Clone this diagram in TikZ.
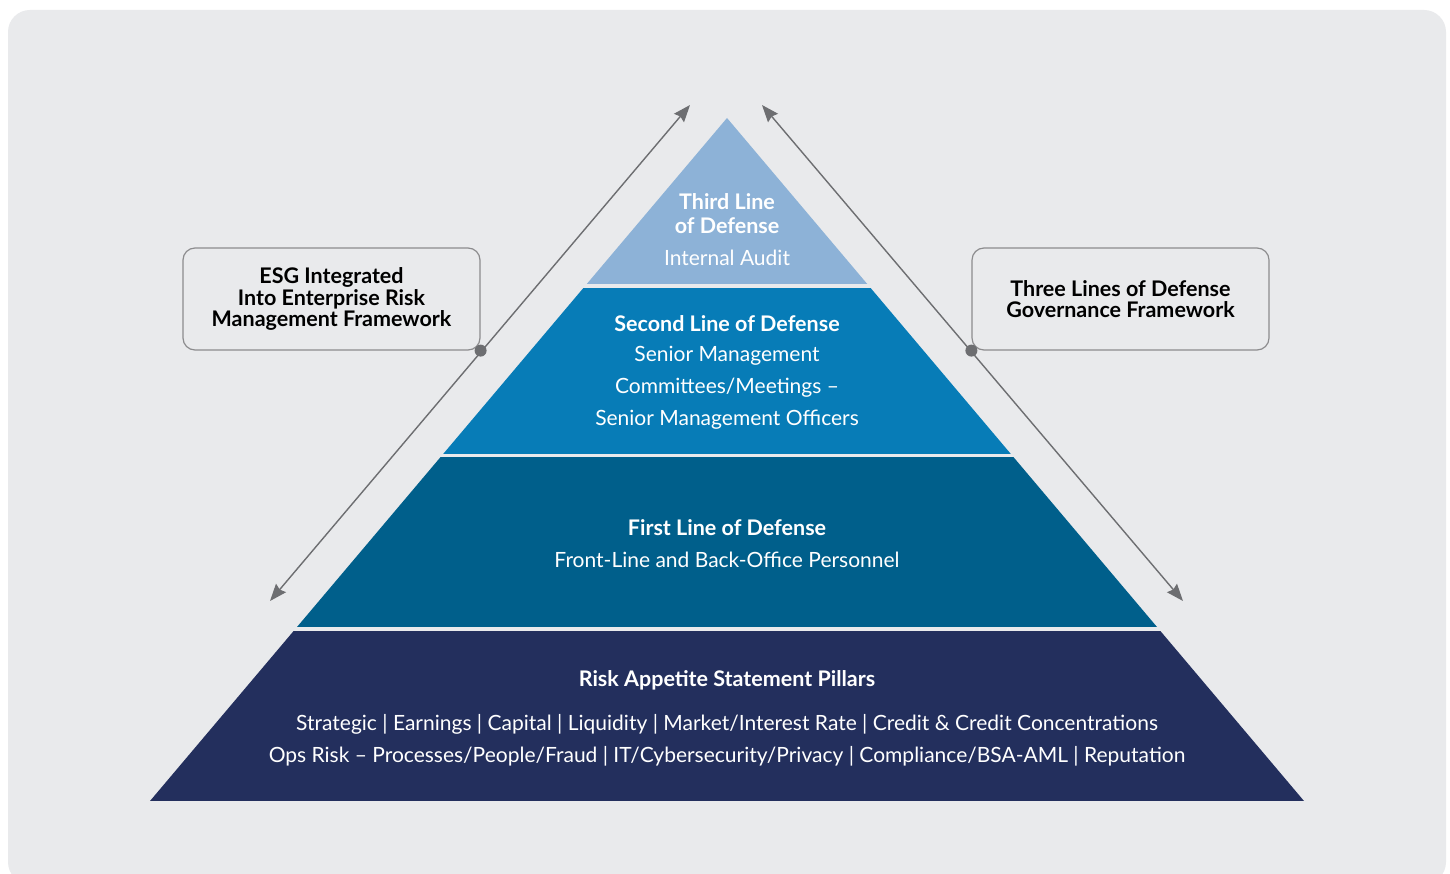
\documentclass[tikz,border=0pt]{standalone}
\usepackage{fontspec}
\setmainfont{Lato}
\usepackage{tikz}
\usetikzlibrary{arrows.meta}

\definecolor{bgc}{HTML}{E9EAEC}
\definecolor{thirdc}{HTML}{8DB2D7}
\definecolor{secondc}{HTML}{077CB7}
\definecolor{firstc}{HTML}{005F8B}
\definecolor{basec}{HTML}{232F5D}
\definecolor{linec}{HTML}{6D6E71}
\definecolor{boxc}{HTML}{8C8C8E}

\tikzset{
  head/.style={font=\fontsize{21.5}{24}\selectfont\bfseries, text=white},
  body/.style={font=\fontsize{21}{24}\selectfont, text=white},
  sidebox/.style={draw=boxc, line width=1.2pt, rounded corners=12pt, fill=bgc,
    minimum width=297pt, minimum height=102pt, align=center,
    font=\fontsize{21.5}{21.5}\selectfont\bfseries},
  axis/.style={draw=linec, line width=1.4pt, {Stealth[length=17pt,width=13pt,inset=2pt]}-{Stealth[length=17pt,width=13pt,inset=2pt]}},
  knob/.style={circle, fill=linec, inner sep=0pt, minimum size=12pt}
}

\begin{document}
\begin{tikzpicture}[x=1pt,y=-1pt]
\useasboundingbox (0,0) rectangle (1450,874);
\fill[white] (0,0) rectangle (1450,874);
\fill[bgc, rounded corners=22pt] (8,10) rectangle (1446,884);

% pyramid layers
\begin{scope}
\clip (727,118) -- (150,801) -- (1304,801) -- cycle;
\fill[thirdc] (0,0) rectangle (1450,284);
\fill[secondc] (0,288) rectangle (1450,454);
\fill[firstc] (0,457) rectangle (1450,627);
\fill[basec] (0,631) rectangle (1450,801);
\end{scope}

% layer texts
\node[head] (third1) at (727,202) {Third Line};
\node[head] (third2) at (727,226) {of Defense};
\node[body] (third3) at (727,258) {Internal Audit};
\node[head] (second1) at (727,324) {Second Line of Defense};
\node[body] (second2) at (727,356) {Senior Management};
\node[body] (second3) at (727,388) {Committees/Meetings --};
\node[body] (second4) at (727,420) {Senior Management Officers};
\node[head] (first1) at (727,528) {First Line of Defense};
\node[body] (first2) at (727,560) {Front-Line and Back-Office Personnel};
\node[head] (base1) at (727,680) {Risk Appetite Statement Pillars};
\node[body] (base2) at (727,724) {Strategic | Earnings | Capital | Liquidity | Market/Interest Rate | Credit \& Credit Concentrations};
\node[body] (base3) at (727,756) {Ops Risk -- Processes/People/Fraud | IT/Cybersecurity/Privacy | Compliance/BSA-AML | Reputation};

% side boxes
\node[sidebox] (esg) at (331.5,299) {ESG Integrated\\Into Enterprise Risk\\Management Framework};
\node[sidebox] (tlod) at (1120.5,299) {Three Lines of Defense\\Governance Framework};

% axes
\coordinate (lbot) at (270,601);
\coordinate (ltop) at (690,105);
\coordinate (rtop) at (762,105);
\coordinate (rbot) at (1183,601);
\draw[axis] (lbot) -- (ltop);
\draw[axis] (rtop) -- (rbot);
\node[knob] (lknob) at (esg.south east) {};
\node[knob] (rknob) at (tlod.south west) {};
\end{tikzpicture}
\end{document}
